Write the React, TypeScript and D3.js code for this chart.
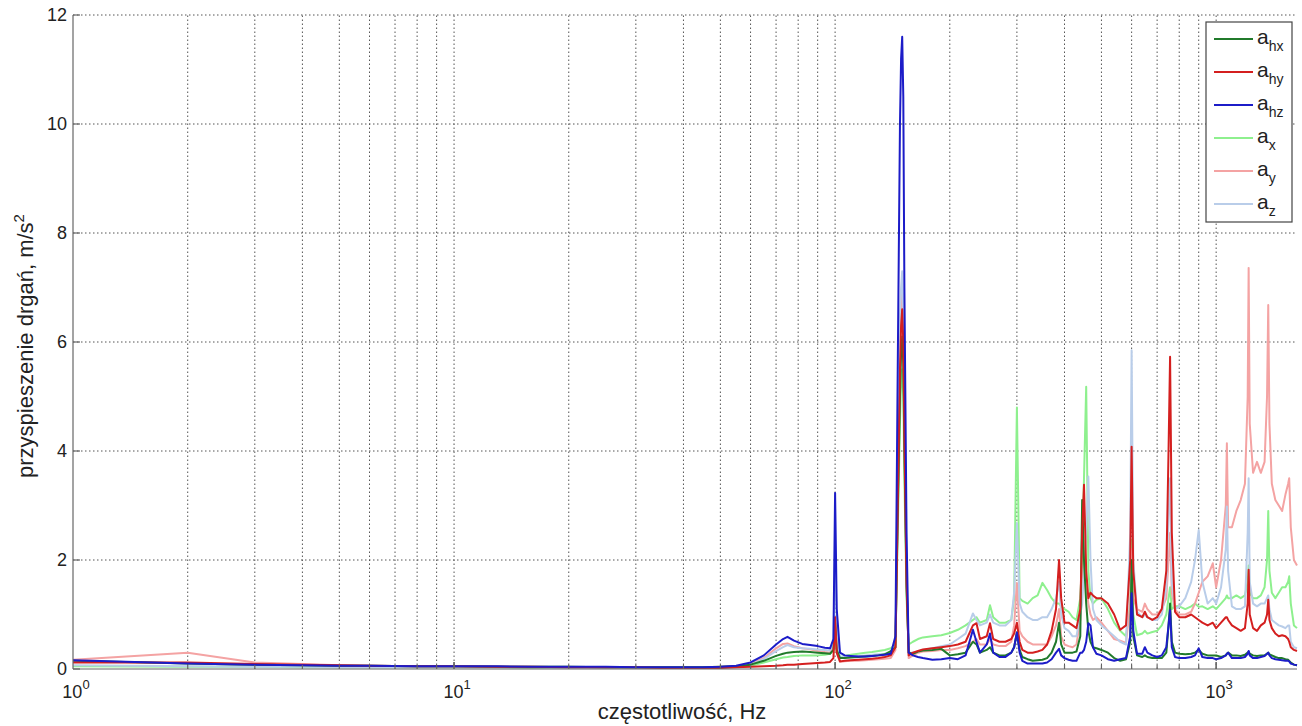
import React from "react";
import * as d3 from "d3";

const width = 1302;
const height = 726;
const margin = { left: 73, right: 5, top: 15, bottom: 57 };

// wspolne czestotliwosci (Hz)
const freq = [
  1, 2, 3, 4, 5, 6,
  8, 10, 13, 16, 20, 25, 30, 35, 40, 45, 50,
  55, 60, 65, 70, 73, 75, 78, 82, 86, 90, 94, 97, 99,
  100, 101, 103, 106, 110, 115, 120, 125, 130, 135, 140, 144, 146, 148, 149,
  150, 151, 152, 154, 156, 160, 165, 170, 180, 190,
  200, 210, 220, 230, 235, 240, 250, 255, 260, 270,
  280, 290, 295, 300, 305, 310, 320, 330, 340, 350,
  360, 370, 380, 387, 392, 400, 410, 420, 430, 440,
  445, 450, 456, 462, 468, 475, 485, 500, 520, 540,
  560, 580, 595, 600, 606, 620, 640, 650, 660, 680,
  700, 720, 740, 750, 757, 765, 780, 800, 830, 860,
  880, 900, 920, 950, 980, 1000, 1030, 1060, 1067, 1075,
  1100, 1130, 1160, 1190, 1210, 1217, 1225, 1250, 1280, 1310,
  1340, 1360, 1370, 1380, 1400, 1430, 1460, 1490, 1520, 1545,
  1555, 1570, 1600, 1630,
];

const aHx = [
  0.15, 0.1, 0.08, 0.07, 0.06, 0.06,
  0.05, 0.05, 0.04, 0.04, 0.04, 0.03, 0.03, 0.03, 0.03, 0.03, 0.04,
  0.05, 0.08, 0.15, 0.24, 0.28, 0.3, 0.31, 0.32, 0.31, 0.3, 0.29, 0.28, 0.35,
  0.85, 0.35, 0.2, 0.2, 0.21, 0.22, 0.23, 0.24, 0.25, 0.27, 0.33, 0.4, 2.8, 5.0, 5.8,
  6.1, 5.6, 4.0, 1.5, 0.3, 0.28, 0.32, 0.34, 0.35, 0.37,
  0.25, 0.27, 0.3, 0.5, 0.45, 0.3, 0.35, 0.4, 0.3, 0.25,
  0.25, 0.3, 0.4, 0.67, 0.35, 0.22, 0.18, 0.15, 0.16, 0.17,
  0.2, 0.3, 0.5, 0.85, 0.45, 0.3, 0.3, 0.3, 0.32, 0.6,
  3.1, 2.0, 1.2, 0.7, 0.5, 0.4, 0.38, 0.35, 0.3, 0.2,
  0.15, 0.18, 0.5, 2.0, 0.6, 0.25, 0.22, 0.25, 0.22, 0.2,
  0.2, 0.2, 0.3, 0.8, 1.2, 0.5, 0.3, 0.28, 0.27, 0.28,
  0.3, 0.35, 0.28, 0.25, 0.25, 0.25, 0.22, 0.25, 0.28, 0.3,
  0.25, 0.25, 0.24, 0.26, 0.3, 0.32, 0.28, 0.25, 0.24, 0.25,
  0.25, 0.28, 0.3, 0.27, 0.25, 0.22, 0.2, 0.2, 0.18, 0.17,
  0.15, 0.12, 0.08, 0.07,
];

const aHy = [
  0.12, 0.12, 0.09, 0.08, 0.07, 0.06,
  0.05, 0.05, 0.04, 0.04, 0.03, 0.03, 0.03, 0.02, 0.02, 0.02, 0.02,
  0.03, 0.04, 0.05, 0.06, 0.07, 0.08, 0.08, 0.09, 0.1, 0.11, 0.12, 0.13, 0.2,
  0.95, 0.3, 0.14, 0.15, 0.16, 0.17, 0.18, 0.19, 0.2, 0.22, 0.25, 0.4, 3.0, 5.5, 6.3,
  6.6, 6.0, 4.3, 1.6, 0.25, 0.3, 0.33, 0.36, 0.38, 0.4,
  0.42, 0.45, 0.5, 0.8, 0.84, 0.55, 0.6, 0.84, 0.55, 0.5,
  0.5, 0.55, 0.65, 0.85, 0.5, 0.35, 0.3, 0.3, 0.32, 0.35,
  0.45, 0.7, 1.1, 2.0, 1.3, 0.85, 0.85, 0.8, 0.75, 1.1,
  2.5, 3.38, 1.8, 1.3, 1.4, 1.35, 1.3, 1.3, 1.2, 1.0,
  0.72, 0.8, 2.0, 4.08, 1.8, 1.0, 0.95, 1.05, 0.95, 0.9,
  0.95, 1.1, 1.8, 4.0, 5.73, 2.5, 1.05, 0.95, 0.95, 1.0,
  0.95, 0.9, 0.85, 0.8, 0.85, 0.75, 0.85, 0.95, 0.95, 0.9,
  0.8, 0.75, 0.7, 0.75, 1.2, 1.82, 1.0, 0.75, 0.7, 0.8,
  0.85, 1.0, 1.27, 0.9, 0.75, 0.65, 0.6, 0.62, 0.6, 0.55,
  0.5, 0.4, 0.35, 0.33,
];

const aHz = [
  0.16, 0.1, 0.08, 0.07, 0.06, 0.06,
  0.05, 0.05, 0.05, 0.04, 0.04, 0.04, 0.03, 0.03, 0.03, 0.03, 0.04,
  0.06, 0.12, 0.25, 0.45, 0.55, 0.59, 0.52, 0.46, 0.44, 0.42, 0.39, 0.38, 0.55,
  3.23, 1.1, 0.3, 0.25, 0.24, 0.23, 0.23, 0.24, 0.25, 0.26, 0.28, 0.6, 5.5, 10.0, 11.2,
  11.6, 10.5, 7.0, 2.5, 0.3, 0.25, 0.22, 0.2, 0.17, 0.18,
  0.2, 0.18, 0.25, 0.72, 0.5, 0.3, 0.45, 0.65, 0.3, 0.22,
  0.22, 0.3, 0.4, 0.67, 0.3, 0.15, 0.1, 0.1, 0.1, 0.1,
  0.12, 0.18, 0.3, 0.37, 0.25, 0.2, 0.17, 0.15, 0.15, 0.3,
  0.3, 0.35, 0.5, 0.84, 0.8, 0.4, 0.28, 0.25, 0.18, 0.15,
  0.18, 0.2, 0.6, 1.39, 0.7, 0.28, 0.28, 0.4, 0.3, 0.25,
  0.22, 0.25, 0.4, 0.8, 1.08, 0.4, 0.22, 0.2, 0.2, 0.22,
  0.25, 0.38, 0.22, 0.2, 0.2, 0.18, 0.2, 0.25, 0.28, 0.3,
  0.2, 0.2, 0.2, 0.22, 0.28, 0.33, 0.25, 0.2, 0.2, 0.22,
  0.24, 0.28, 0.3, 0.25, 0.2, 0.18, 0.17, 0.16, 0.15, 0.15,
  0.14, 0.1, 0.08, 0.07,
];

const aX = [
  0.05, 0.04, 0.04, 0.03, 0.03, 0.03,
  0.03, 0.03, 0.03, 0.02, 0.02, 0.02, 0.02, 0.02, 0.02, 0.03, 0.03,
  0.04, 0.06, 0.12, 0.18, 0.21, 0.22, 0.24, 0.25, 0.25, 0.25, 0.26, 0.28, 0.35,
  0.7, 0.3, 0.22, 0.24, 0.26, 0.28, 0.3, 0.31, 0.33, 0.35, 0.38, 0.45, 2.5, 4.5, 5.3,
  5.5, 5.0, 3.5, 1.3, 0.45, 0.5, 0.55, 0.58, 0.6, 0.62,
  0.66, 0.72, 0.8, 0.9, 0.95, 0.85, 0.9, 1.17, 0.95, 0.85,
  0.85, 0.9, 1.3, 4.8, 1.3, 1.25, 1.2, 1.3, 1.35, 1.58,
  1.45, 1.3, 1.2, 1.2, 1.15, 1.1, 1.05, 0.95, 0.9, 1.3,
  2.0, 3.5, 5.18, 1.8, 1.3, 1.2, 1.27, 1.3, 1.1, 0.85,
  0.7, 0.6, 1.2, 2.37, 1.0, 0.62, 0.65, 0.7, 0.65, 0.68,
  0.7, 0.8, 1.0, 1.3, 1.5, 1.1, 1.15, 1.15, 1.1, 1.15,
  1.2, 1.14, 1.15, 1.1, 1.15, 1.1, 1.2, 1.3, 1.35, 1.3,
  1.3, 1.35, 1.3, 1.35, 1.6, 1.9, 1.4, 1.3, 1.3, 1.35,
  1.5, 2.0, 2.9, 1.8, 1.4, 1.3, 1.4, 1.5, 1.5, 1.6,
  1.7, 1.2, 0.8, 0.75,
];

const aY = [
  0.17, 0.3, 0.12, 0.09, 0.07, 0.06,
  0.05, 0.04, 0.04, 0.03, 0.03, 0.03, 0.03, 0.03, 0.03, 0.03, 0.04,
  0.05, 0.1, 0.2, 0.38, 0.46, 0.47, 0.42, 0.38, 0.36, 0.33, 0.31, 0.3, 0.4,
  0.8, 0.3, 0.13, 0.14, 0.15, 0.15, 0.16, 0.17, 0.18, 0.19, 0.2, 0.35, 3.0, 5.8, 6.6,
  6.9, 6.2, 4.5, 1.7, 0.2, 0.25, 0.3, 0.32, 0.33, 0.35,
  0.35, 0.38, 0.42, 0.5, 0.55, 0.45, 0.45, 0.55, 0.45, 0.42,
  0.42, 0.5, 0.8, 1.58, 0.7, 0.6, 0.5, 0.45, 0.45, 0.45,
  0.45, 0.6, 0.8, 1.1, 0.6, 0.45, 0.42, 0.4, 0.45, 0.9,
  1.5, 2.0, 1.5, 1.2, 1.0, 0.9, 0.95, 0.85, 0.7, 0.55,
  0.52, 0.48, 1.2, 2.2, 1.3, 1.1, 1.05, 1.2, 1.1, 1.0,
  1.0, 1.1, 1.3, 2.0, 2.5, 1.4, 1.1, 1.0, 1.0, 1.05,
  1.2, 1.4, 1.6, 1.7, 1.94, 1.5, 2.0, 3.0, 4.14, 2.6,
  2.6, 2.9, 3.1, 3.4, 5.0, 7.36, 4.5, 3.6, 3.8, 3.6,
  3.8, 5.0, 6.68, 4.5, 3.4, 3.1, 3.0, 2.9, 3.2, 3.4,
  3.5, 2.6, 2.0, 1.9,
];

const aZ = [
  0.07, 0.05, 0.04, 0.04, 0.03, 0.03,
  0.03, 0.03, 0.03, 0.03, 0.02, 0.02, 0.02, 0.02, 0.02, 0.03, 0.03,
  0.04, 0.08, 0.18, 0.33, 0.4, 0.44, 0.4, 0.38, 0.37, 0.36, 0.35, 0.34, 0.5,
  2.3, 0.8, 0.22, 0.22, 0.23, 0.24, 0.25, 0.26, 0.27, 0.28, 0.3, 0.5, 3.5, 6.5, 7.0,
  7.3, 6.6, 4.8, 1.8, 0.3, 0.3, 0.32, 0.35, 0.38, 0.42,
  0.45, 0.55, 0.65, 1.02, 0.9, 0.8, 0.85, 1.0, 0.85, 0.8,
  0.8, 0.9, 1.4, 2.68, 1.2, 1.05, 0.95, 0.9, 0.9, 0.95,
  0.95, 1.1, 1.3, 1.6, 1.0, 0.75, 0.7, 0.6, 0.6, 1.0,
  1.2, 1.8, 2.5, 3.53, 2.0, 1.1, 0.9, 0.8, 0.7, 0.6,
  0.5, 0.45, 2.5, 5.85, 2.0, 1.05, 0.95, 1.0, 0.95, 0.9,
  0.9, 1.0, 1.5, 2.8, 3.5, 1.6, 1.1, 1.15, 1.3, 1.6,
  2.0, 2.55, 1.6, 1.2, 1.3, 1.2, 1.5, 2.2, 2.98, 1.8,
  1.15, 1.1, 1.1, 1.15, 2.5, 3.5, 1.6, 1.2, 1.15, 1.2,
  1.2, 1.3, 1.35, 1.1, 0.9, 0.85, 0.8, 0.78, 0.75, 0.8,
  0.8, 0.5, 0.4, 0.38,
];

const seriesNames = ["hx", "hy", "hz", "x", "y", "z"];
const seriesValues = [aHx, aHy, aHz, aX, aY, aZ];
const seriesColors = ["#217a2b", "#d41f1f", "#1c1cc8", "#8ef08e", "#f4a3a3", "#b9cde9"];

const yTicks = [0, 2, 4, 6, 8, 10, 12];
const xDecades = [1, 10, 100, 1000];
const xExponents = ["0", "1", "2", "3"];

const x = d3
  .scaleLog()
  .domain([1, 1630])
  .range([margin.left, width - margin.right]);
const y = d3
  .scaleLinear()
  .domain([0, 12])
  .range([height - margin.bottom, margin.top]);

const font = "'Liberation Sans', Arial, sans-serif";

const App = () => {
  const line = d3
    .line<number>()
    .x((d, i) => x(freq[i]))
    .y((d) => y(d));

  // grid on every minor tick of the log axis
  const xGrid: number[] = [];
  for (const dec of xDecades) {
    for (let k = 1; k < 10; k++) {
      const f = dec * k;
      if (f > 1 && f <= 1630) xGrid.push(f);
    }
  }

  const x0 = margin.left;
  const x1 = width - margin.right;
  const y0 = height - margin.bottom;
  const y1 = margin.top;

  // light series underneath, the h-series on top
  const order = [3, 4, 5, 0, 1, 2];

  return (
    <svg
      width={width}
      height={height}
      style={{ position: "absolute", left: 0, top: 0, background: "#fff" }}
      fontFamily={font}
    >
      <g stroke="#555" strokeWidth={1} strokeDasharray="1.5,2.5">
        {xGrid.map((f) => (
          <line key={"gx" + f} x1={x(f)} x2={x(f)} y1={y0} y2={y1} />
        ))}
        {yTicks.slice(1).map((t) => (
          <line key={"gy" + t} x1={x0} x2={x1} y1={y(t)} y2={y(t)} />
        ))}
      </g>

      <g fill="none" strokeWidth={2} strokeLinejoin="round">
        {order.map((i) => (
          <path key={seriesNames[i]} d={line(seriesValues[i]) || ""} stroke={seriesColors[i]} />
        ))}
      </g>

      {/* axes */}
      <g stroke="#666" strokeWidth={1.2}>
        <line x1={x0} x2={x0} y1={y0} y2={y1} />
        <line x1={x0} x2={x1} y1={y0} y2={y0} />
        {yTicks.map((t) => (
          <line key={"ty" + t} x1={x0} x2={x0 + 7} y1={y(t)} y2={y(t)} />
        ))}
        {xGrid.concat(xDecades.slice(1)).map((f) => (
          <line key={"tx" + f} x1={x(f)} x2={x(f)} y1={y0} y2={y0 - (xDecades.includes(f) ? 7 : 4)} />
        ))}
      </g>

      <g fontSize={18} fill="#222">
        {yTicks.map((t) => (
          <text key={"ly" + t} x={x0 - 6} y={y(t)} dy="0.35em" textAnchor="end">
            {t}
          </text>
        ))}
        {xDecades.map((d, i) => (
          <text key={"lx" + d} x={x(d) + 3} y={698} textAnchor="middle">
            <tspan>10</tspan>
            <tspan fontSize={13} dy={-9}>
              {xExponents[i]}
            </tspan>
          </text>
        ))}
      </g>

      <text x={682} y={719} fontSize={22} textAnchor="middle" fill="#222">
        częstotliwość, Hz
      </text>
      <text transform={`translate(33,${(y0 + y1) / 2 + 4}) rotate(-90)`} fontSize={22} textAnchor="middle" fill="#222">
        przyspieszenie drgań, m/s
        <tspan fontSize={15} dy={-9}>
          2
        </tspan>
      </text>

      {/* legend */}
      <g>
        <rect x={1206} y={22} width={86} height={200} fill="#fff" stroke="#444" strokeWidth={1.2} />
        {seriesNames.map((name, i) => {
          const ly = 39 + i * 33;
          return (
            <g key={"lg" + name}>
              <line x1={1214} x2={1253} y1={ly} y2={ly} stroke={seriesColors[i]} strokeWidth={2} />
              <text x={1257} y={ly + 5} fontSize={21} fill="#222">
                a
                <tspan fontSize={14} dy={7}>
                  {name}
                </tspan>
              </text>
            </g>
          );
        })}
      </g>
    </svg>
  );
};

export default App;
